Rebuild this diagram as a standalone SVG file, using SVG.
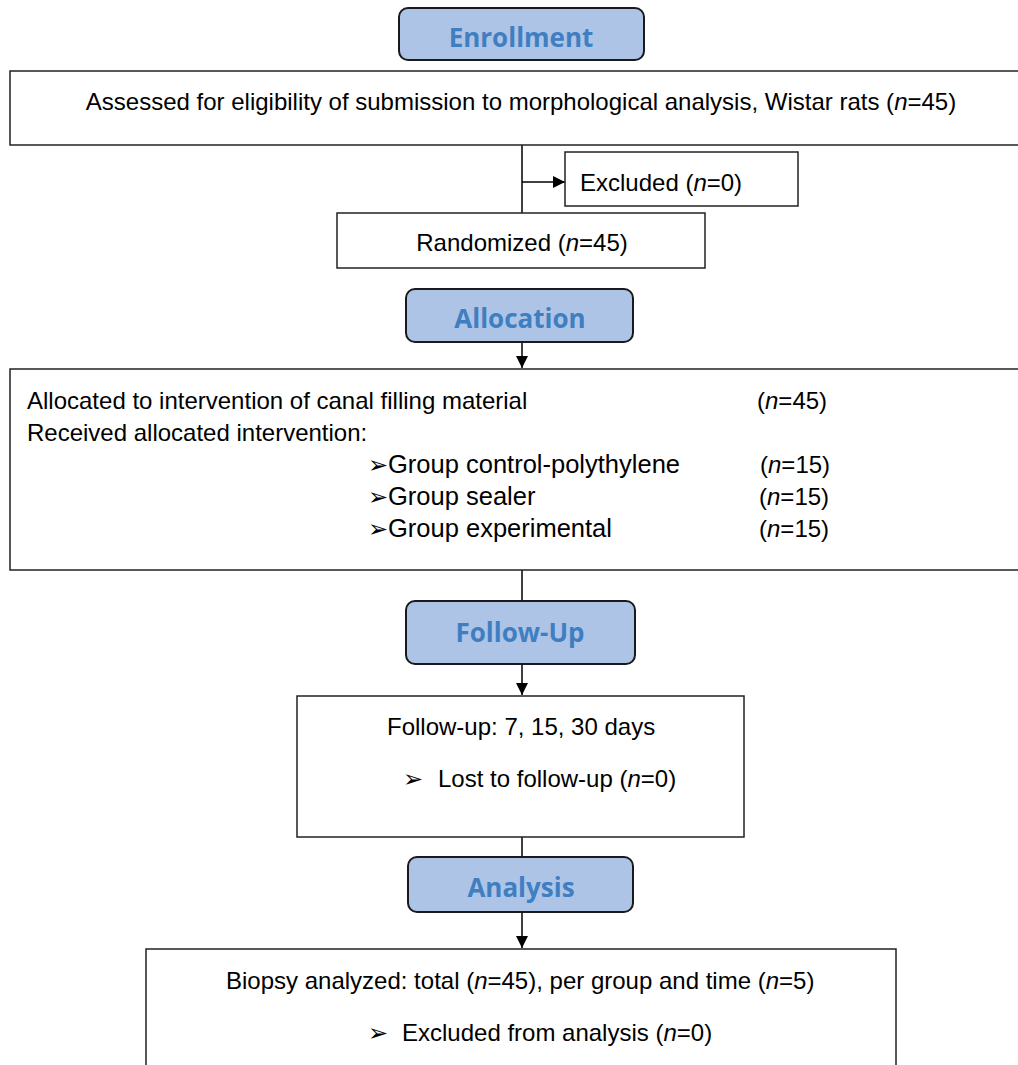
<svg xmlns="http://www.w3.org/2000/svg" width="1018" height="1065" viewBox="0 0 1018 1065">
<style>
.box{fill:#fff;stroke:#222;stroke-width:1.5}
.hdr{fill:#adc4e6;stroke:#1a1a1a;stroke-width:2}
.ht{font-family:"Open Sans","Noto Sans",sans-serif;font-weight:bold;font-size:26px;fill:#3f7fc1;text-anchor:middle}
.t{font-family:"Liberation Sans",Arial,sans-serif;font-size:24px;fill:#000}
.g{font-size:25.5px}
.c{text-anchor:middle}
.ln{stroke:#000;stroke-width:1.5;fill:none}
</style>
<defs>
<marker id="ah2" viewBox="0 0 10 10" refX="10" refY="5" markerWidth="12" markerHeight="12" markerUnits="userSpaceOnUse" orient="auto">
<path d="M0,0 L10,5 L0,10 z" fill="#000"/>
</marker>
</defs>
<g id="connectors">
<line class="ln" x1="522" y1="145" x2="522" y2="213"/>
<line class="ln" x1="522" y1="182" x2="565" y2="182" marker-end="url(#ah2)"/>
<line class="ln" x1="522" y1="342" x2="522" y2="368" marker-end="url(#ah2)"/>
<line class="ln" x1="522" y1="570" x2="522" y2="601"/>
<line class="ln" x1="522" y1="664" x2="522" y2="695" marker-end="url(#ah2)"/>
<line class="ln" x1="522" y1="837" x2="522" y2="857"/>
<line class="ln" x1="522" y1="912" x2="522" y2="948" marker-end="url(#ah2)"/>
</g>
<g id="enrollment">
<rect class="hdr" x="399" y="8" width="245" height="52" rx="9"/>
<text class="ht" x="521" y="47">Enrollment</text>
</g>
<g id="assessed">
<rect class="box" x="10" y="71" width="1015" height="74"/>
<text class="t c" x="521" y="110">Assessed for eligibility of submission to morphological analysis, Wistar rats (<tspan font-style="italic">n</tspan>=45)</text>
</g>
<g id="excluded">
<rect class="box" x="565" y="152" width="233" height="54"/>
<text class="t" x="580" y="191">Excluded (<tspan font-style="italic">n</tspan>=0)</text>
</g>
<g id="randomized">
<rect class="box" x="337" y="213" width="368" height="55"/>
<text class="t c" x="522" y="251">Randomized (<tspan font-style="italic">n</tspan>=45)</text>
</g>
<g id="allocation">
<rect class="hdr" x="406" y="289" width="227" height="53" rx="9"/>
<text class="ht" x="520" y="328">Allocation</text>
</g>
<g id="allocated">
<rect class="box" x="10" y="369" width="1015" height="201"/>
<text class="t" x="27" y="409">Allocated to intervention of canal filling material</text>
<text class="t" x="757" y="409">(<tspan font-style="italic">n</tspan>=45)</text>
<text class="t" x="27" y="441">Received allocated intervention:</text>
<text class="t" x="368" y="473">➢</text>
<text class="t g" x="388" y="473">Group control-polythylene</text>
<text class="t" x="760" y="473">(<tspan font-style="italic">n</tspan>=15)</text>
<text class="t" x="368" y="505">➢</text>
<text class="t g" x="388" y="505">Group sealer</text>
<text class="t" x="759" y="505">(<tspan font-style="italic">n</tspan>=15)</text>
<text class="t" x="368" y="537">➢</text>
<text class="t g" x="388" y="537">Group experimental</text>
<text class="t" x="759" y="537">(<tspan font-style="italic">n</tspan>=15)</text>
</g>
<g id="followup-hdr">
<rect class="hdr" x="406" y="601" width="229" height="63" rx="9"/>
<text class="ht" x="520" y="642">Follow-Up</text>
</g>
<g id="followup">
<rect class="box" x="297" y="696" width="447" height="141"/>
<text class="t" x="387" y="735">Follow-up: 7, 15, 30 days</text>
<text class="t" x="403" y="787">➢</text>
<text class="t" x="438" y="787">Lost to follow-up (<tspan font-style="italic">n</tspan>=0)</text>
</g>
<g id="analysis-hdr">
<rect class="hdr" x="408" y="857" width="225" height="55" rx="9"/>
<text class="ht" x="521" y="897">Analysis</text>
</g>
<g id="analysis">
<rect class="box" x="146" y="949" width="750" height="130"/>
<text class="t" x="226" y="989">Biopsy analyzed: total (<tspan font-style="italic">n</tspan>=45), per group and time (<tspan font-style="italic">n</tspan>=5)</text>
<text class="t" x="368" y="1041">➢</text>
<text class="t" x="402" y="1041">Excluded from analysis (<tspan font-style="italic">n</tspan>=0)</text>
</g>
</svg>
